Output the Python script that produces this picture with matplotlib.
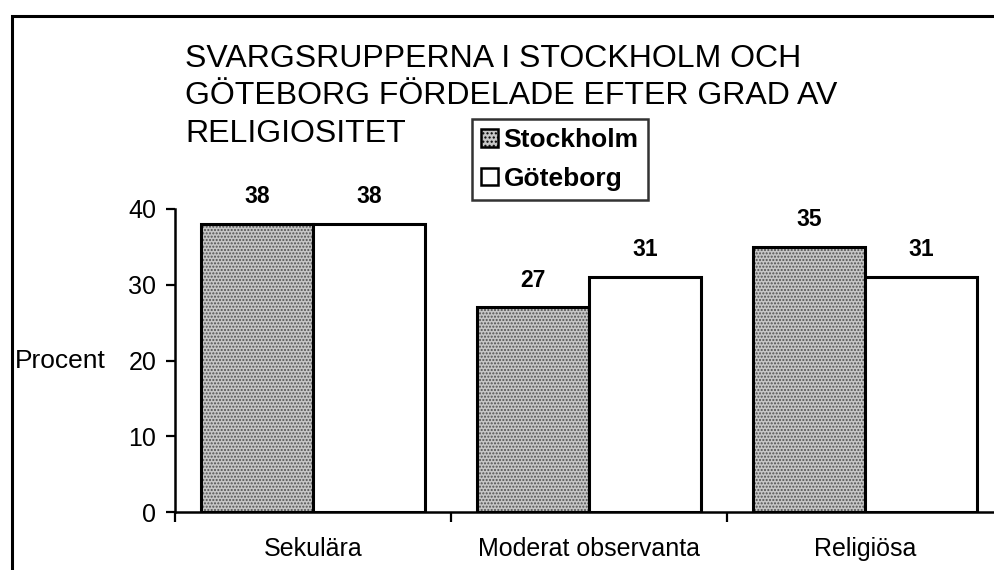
import matplotlib.pyplot as plt
import numpy as np
from matplotlib.patches import Rectangle, Patch

plt.rcParams['font.family'] = ['Liberation Sans', 'DejaVu Sans']

categories = ['Sekulära', 'Moderat observanta', 'Religiösa']
stockholm = [38, 27, 35]
goteborg = [38, 31, 31]
series_names = ['Stockholm', 'Göteborg']
yticks = [0, 10, 20, 30, 40]
title_lines = ['SVARGSRUPPERNA I STOCKHOLM OCH',
               'GÖTEBORG FÖRDELADE EFTER GRAD AV',
               'RELIGIOSITET']

fig = plt.figure(figsize=(9.95, 5.70), dpi=100)
ax = fig.add_axes([175/995, 58/570, 828/995, 303/570])

x = np.arange(len(categories))
w = 0.405
stip_face = '#c6c6c6'

# stippled Stockholm bars: hatch layer, then black outline on top
ax.bar(x - w/2, stockholm, w, facecolor=stip_face, edgecolor='#505050',
       hatch='.....', linewidth=0)
ax.bar(x - w/2, stockholm, w, fill=False, edgecolor='black', linewidth=2.2)
ax.bar(x + w/2, goteborg, w, facecolor='white', edgecolor='black', linewidth=2.2)

for xi, v in zip(x - w/2, stockholm):
    ax.annotate(str(v), (xi, v), xytext=(0, 15), textcoords='offset points',
                ha='center', va='baseline', fontsize=16.5, fontweight='bold')
for xi, v in zip(x + w/2, goteborg):
    ax.annotate(str(v), (xi, v), xytext=(0, 15), textcoords='offset points',
                ha='center', va='baseline', fontsize=16.5, fontweight='bold')

ax.set_xlim(-0.5, 2.5)
ax.set_ylim(0, 40)
ax.set_yticks(yticks)
ax.tick_params(axis='y', labelsize=18, length=6.5, width=1.6, pad=7)
ax.set_xticks([-0.5, 0.5, 1.5, 2.5])
ax.set_xticklabels([])
ax.tick_params(axis='x', which='major', length=7.5, width=1.6)
ax.set_xticks(x, minor=True)
ax.set_xticklabels(categories, minor=True)
ax.tick_params(axis='x', which='minor', length=0, labelsize=18, pad=18)

for s in ['top', 'right']:
    ax.spines[s].set_visible(False)
for s in ['left', 'bottom']:
    ax.spines[s].set_linewidth(1.8)

ax.set_ylabel('Procent', rotation=0, fontsize=19, ha='left', va='center')
ax.yaxis.set_label_coords((15 - 175) / 828, 0.5)

# title, one text per line (baselines)
for line, base in zip(title_lines, [67, 104.5, 142]):
    fig.text(185/995, 1 - base/570, line, fontsize=23, ha='left', va='baseline')

handles = [Patch(facecolor=stip_face, edgecolor='black', hatch='....', linewidth=1.8),
           Patch(facecolor='white', edgecolor='black', linewidth=1.8)]
leg = fig.legend(handles, series_names, loc='upper left',
                 bbox_to_anchor=(472/995, 1 - 119/570), frameon=True,
                 fancybox=False, prop={'weight': 'bold', 'size': 19},
                 handlelength=0.65, handleheight=0.65, handletextpad=0.2,
                 labelspacing=0.55, borderpad=0.35, borderaxespad=0)
leg.get_frame().set_edgecolor('black')
leg.get_frame().set_linewidth(1.8)

# outer chart frame (left and top edges visible in the scan)
fig.add_artist(Rectangle((11.7/995, -0.2), 1.1, 1.2 - 16/570,
                         transform=fig.transFigure, fill=False,
                         edgecolor='black', linewidth=2.2))

fig.savefig('out.png', dpi=100)
